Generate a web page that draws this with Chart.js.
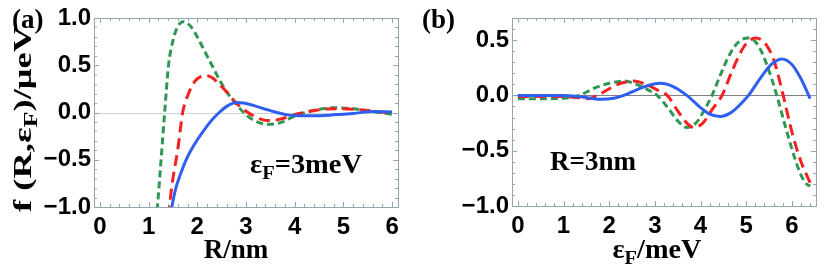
<!DOCTYPE html>
<html>
<head>
<meta charset="utf-8">
<script src="https://cdn.jsdelivr.net/npm/chart.js@4.4.1/dist/chart.umd.min.js"></script>
<style>
  body { margin: 0; background: #fff; }
  #wrap { position: relative; width: 830px; height: 277px; }
  canvas { position: absolute; top: 0; }
</style>
</head>
<body>
<div id="wrap">
  <canvas id="chartA" width="415" height="277" style="left:0"></canvas>
  <canvas id="chartB" width="415" height="277" style="left:415px"></canvas>
</div>
<script>
// ---- panel (a): f(R) at eF = 3 meV ----
const aXTicks = [0, 1, 2, 3, 4, 5, 6];
const aYTicks = [-1, -0.5, 0, 0.5, 1];
const aYTickLabels = ['\u22121.0', '\u22120.5', '0.0', '0.5', '1.0'];

const aBlueX = [1.44, 1.55, 1.65, 1.78, 1.95, 2.12, 2.3, 2.45, 2.62, 2.8, 2.95, 3.15, 3.4, 3.6, 3.85, 4.1, 4.4, 4.8, 5.2, 5.6, 6.0];
const aBlueY = [-1.1, -0.82, -0.66, -0.49, -0.33, -0.2, -0.08, 0.0, 0.07, 0.105, 0.1, 0.075, 0.035, 0.005, -0.025, -0.035, -0.035, -0.025, -0.01, 0.01, 0.005];

const aRedX = [1.4, 1.5, 1.6, 1.7, 1.82, 1.95, 2.07, 2.18, 2.3, 2.45, 2.6, 2.8, 3.04, 3.25, 3.45, 3.7, 3.95, 4.2, 4.5, 4.9, 5.3, 5.7, 6.0];
const aRedY = [-1.1, -0.7, -0.39, 0.0, 0.2, 0.33, 0.38, 0.39, 0.37, 0.3, 0.22, 0.1, 0.0, -0.06, -0.085, -0.07, -0.03, 0.0, 0.03, 0.04, 0.03, 0.01, -0.01];

const aGreenX = [1.16, 1.25, 1.33, 1.41, 1.5, 1.6, 1.71, 1.85, 2.0, 2.15, 2.3, 2.45, 2.6, 2.8, 2.95, 3.15, 3.47, 3.75, 3.95, 4.15, 4.45, 4.8, 5.2, 5.6, 6.0];
const aGreenY = [-1.15, -0.55, 0.0, 0.5, 0.76, 0.91, 0.96, 0.92, 0.8, 0.65, 0.5, 0.35, 0.22, 0.09, 0.0, -0.08, -0.125, -0.1, -0.05, -0.01, 0.03, 0.05, 0.04, 0.01, -0.02];

// ---- panel (b): f(eF) at R = 3 nm ----
const bXTicks = [0, 1, 2, 3, 4, 5, 6];
const bYTicks = [-1, -0.5, 0, 0.5];
const bYTickLabels = ['\u22121.0', '\u22120.5', '0.0', '0.5'];

const bBlueX = [0, 0.5, 1.0, 1.4, 1.81, 2.1, 2.32, 2.6, 2.85, 3.12, 3.4, 3.7, 4.0, 4.2, 4.43, 4.65, 4.85, 5.05, 5.3, 5.55, 5.78, 6.0, 6.2, 6.4];
const bBlueY = [0.0, 0.0, 0.0, -0.015, -0.035, -0.025, 0.0, 0.05, 0.09, 0.11, 0.08, 0.0, -0.11, -0.17, -0.19, -0.16, -0.09, 0.0, 0.15, 0.28, 0.33, 0.28, 0.15, -0.03];

const bRedX = [0, 0.5, 1.0, 1.3, 1.55, 1.74, 2.0, 2.25, 2.54, 2.8, 3.05, 3.27, 3.5, 3.7, 3.85, 4.05, 4.25, 4.47, 4.7, 4.95, 5.2, 5.45, 5.62, 5.81, 6.0, 6.2, 6.4];
const bRedY = [-0.01, -0.01, -0.01, -0.02, -0.03, 0.0, 0.06, 0.11, 0.13, 0.1, 0.05, 0.0, -0.14, -0.25, -0.29, -0.25, -0.13, 0.0, 0.23, 0.44, 0.52, 0.45, 0.3, 0.0, -0.33, -0.6, -0.79];

const bGreenX = [0, 0.5, 1.0, 1.34, 1.7, 2.0, 2.32, 2.6, 2.85, 3.05, 3.3, 3.5, 3.7, 3.9, 4.1, 4.25, 4.45, 4.65, 4.85, 5.05, 5.25, 5.45, 5.67, 5.85, 6.05, 6.2, 6.32, 6.4];
const bGreenY = [-0.03, -0.03, -0.025, 0.0, 0.07, 0.11, 0.13, 0.1, 0.05, 0.0, -0.12, -0.23, -0.29, -0.25, -0.12, 0.0, 0.2, 0.38, 0.49, 0.52, 0.46, 0.28, 0.0, -0.27, -0.55, -0.72, -0.8, -0.82];

const BLUE = '#2f5ff0';
const RED = '#f52020';
const GREEN = '#2f9653';
const FRAME = '#93a7b1';
const SERIF = '"Liberation Serif", "Times New Roman", serif';
const SANS = '"Liberation Sans", Arial, sans-serif';

function zip(xs, ys) {
    return xs.map((x, i) => ({ x: x, y: ys[i] }));
}

/**
 * Draw text made of pieces, some of them subscripts; optional stretch to a width
 */
function richText(ctx, parts, x, y, size, align, fitWidth) {
    const sub = size * 0.72;
    let w = 0;
    parts.forEach(p => {
        ctx.font = 'bold ' + (p[1] ? sub : size) + 'px ' + SERIF;
        w += ctx.measureText(p[0]).width;
    });
    const sx = fitWidth ? fitWidth / w : 1;
    ctx.save();
    ctx.translate(x, y);
    ctx.scale(sx, 1);
    let cx = align === 'center' ? -w / 2 : 0;
    ctx.fillStyle = '#000';
    ctx.textBaseline = 'alphabetic';
    ctx.textAlign = 'left';
    parts.forEach(p => {
        ctx.font = 'bold ' + (p[1] ? sub : size) + 'px ' + SERIF;
        ctx.fillText(p[0], cx, p[1] ? size * 0.22 : 0);
        cx += ctx.measureText(p[0]).width;
    });
    ctx.restore();
}

/**
 * Frame rectangle plus inward major/minor ticks, as filled 1px rectangles
 */
function drawFrame(chart, xMax) {
    const ctx = chart.ctx;
    const a = chart.chartArea;
    const xs = chart.scales.x;
    const ys = chart.scales.y;
    const L = Math.round(a.left), Rt = Math.round(a.right);
    const T = Math.round(a.top), B = Math.round(a.bottom);
    ctx.save();
    ctx.fillStyle = FRAME;
    ctx.fillRect(L, T, Rt - L + 1, 1);
    ctx.fillRect(L, B, Rt - L + 1, 1);
    ctx.fillRect(L, T, 1, B - T + 1);
    ctx.fillRect(Rt, T, 1, B - T + 1);
    // x ticks every 0.2, majors at integers
    for (let i = 0; i <= xMax * 5 + 0.01; i++) {
        const px = Math.round(xs.getPixelForValue(i / 5));
        const len = i % 5 === 0 ? 5 : 3;
        ctx.fillRect(px, B - len, 1, len);
        ctx.fillRect(px, T, 1, len);
    }
    // y ticks every 0.1, majors every 0.5
    for (let i = -10; i <= 10; i++) {
        const v = i / 10;
        if (v < ys.min || v > ys.max) continue;
        const py = Math.round(ys.getPixelForValue(v));
        const len = i % 5 === 0 ? 5 : 3;
        ctx.fillRect(L, py, len, 1);
        ctx.fillRect(Rt - len, py, len, 1);
    }
    ctx.restore();
}

/**
 * Zero line, frame and labels of one panel
 */
function makeDecor(cfg) {
    return {
        id: 'decor',
        beforeDatasetsDraw(chart) {
            const ctx = chart.ctx;
            const a = chart.chartArea;
            const y0 = Math.round(chart.scales.y.getPixelForValue(0));
            ctx.save();
            ctx.fillStyle = cfg.zeroColor;
            ctx.fillRect(a.left, y0, a.right - a.left, 1);
            ctx.restore();
            drawFrame(chart, cfg.xMax);
        },
        afterDraw(chart) {
            const ctx = chart.ctx;
            cfg.texts.forEach(t => richText(ctx, t.parts, t.x, t.y, t.size, t.align, t.fit));
            if (cfg.yTitle) {
                const t = cfg.yTitle;
                ctx.save();
                ctx.translate(t.x, t.y);
                ctx.rotate(-Math.PI / 2);
                richText(ctx, t.parts, 0, 0, t.size, 'center', t.fit);
                ctx.restore();
            }
        }
    };
}

function makeChart(id, series, xMin, xMax, xTicks, yMin, yMax, yTicks, yLabels, box, decor) {
    const ctx = document.getElementById(id).getContext('2d');
    const tickFont = { family: SANS, weight: 'bold', size: 24 };
    return new Chart(ctx, {
        type: 'scatter',
        data: {
            datasets: series.map(s => ({
                data: zip(s.x, s.y),
                showLine: true,
                borderColor: s.color,
                borderWidth: 3,
                borderDash: s.dash,
                pointRadius: 0,
                cubicInterpolationMode: 'monotone',
                fill: false
            }))
        },
        options: {
            responsive: false,
            animation: false,
            devicePixelRatio: 1,
            layout: { padding: { top: box.top, right: box.right, left: 0, bottom: 0 } },
            plugins: { legend: { display: false }, tooltip: { enabled: false } },
            scales: {
                x: {
                    type: 'linear',
                    min: xMin,
                    max: xMax,
                    grid: { display: false, drawTicks: false },
                    border: { display: false },
                    ticks: { font: tickFont, color: '#000', padding: 6, maxRotation: 0 },
                    afterBuildTicks: s => { s.ticks = xTicks.map(v => ({ value: v })); },
                    afterFit: s => { s.height = box.xAxisH; }
                },
                y: {
                    type: 'linear',
                    min: yMin,
                    max: yMax,
                    grid: { display: false, drawTicks: false },
                    border: { display: false },
                    ticks: {
                        font: tickFont, color: '#000', padding: 3,
                        callback: v => yLabels[yTicks.indexOf(v)]
                    },
                    afterBuildTicks: s => { s.ticks = yTicks.map(v => ({ value: v })); },
                    afterFit: s => { s.width = box.yAxisW; }
                }
            }
        },
        plugins: [decor]
    });
}

makeChart('chartA', [
    { x: aBlueX, y: aBlueY, color: BLUE, dash: [] },
    { x: aRedX, y: aRedY, color: RED, dash: [11, 6] },
    { x: aGreenX, y: aGreenY, color: GREEN, dash: [7, 4] }
], -0.12, 6.12, aXTicks, -1, 1, aYTicks, aYTickLabels,
    { top: 18, right: 17, xAxisH: 70, yAxisW: 94 },
    makeDecor({
        xMax: 6, zeroColor: '#c9d3d8',
        texts: [
            { parts: [['(a)', 0]], x: 12, y: 28, size: 27, align: 'left' },
            { parts: [['R/nm', 0]], x: 236, y: 258, size: 27, align: 'center' },
            { parts: [['\u03b5', 0], ['F', 1], ['=3meV', 0]], x: 250, y: 173, size: 27, align: 'left', fit: 112 }
        ],
        yTitle: { parts: [['f (R,\u03b5', 0], ['F', 1], [')/\u03bceV', 0]], x: 31, y: 119, size: 26, fit: 186 }
    }));

makeChart('chartB', [
    { x: bBlueX, y: bBlueY, color: BLUE, dash: [] },
    { x: bRedX, y: bRedY, color: RED, dash: [11, 6] },
    { x: bGreenX, y: bGreenY, color: GREEN, dash: [7, 4] }
], -0.128, 6.528, bXTicks, -1, 0.7, bYTicks, bYTickLabels,
    { top: 18, right: 14, xAxisH: 71, yAxisW: 97 },
    makeDecor({
        xMax: 6.4, zeroColor: '#808080',
        texts: [
            { parts: [['(b)', 0]], x: 7, y: 28, size: 27, align: 'left' },
            { parts: [['\u03b5', 0], ['F', 1], ['/meV', 0]], x: 242, y: 258, size: 27, align: 'center', fit: 89 },
            { parts: [['R=3nm', 0]], x: 135, y: 170, size: 27, align: 'left' }
        ]
    }));
</script>
</body>
</html>
